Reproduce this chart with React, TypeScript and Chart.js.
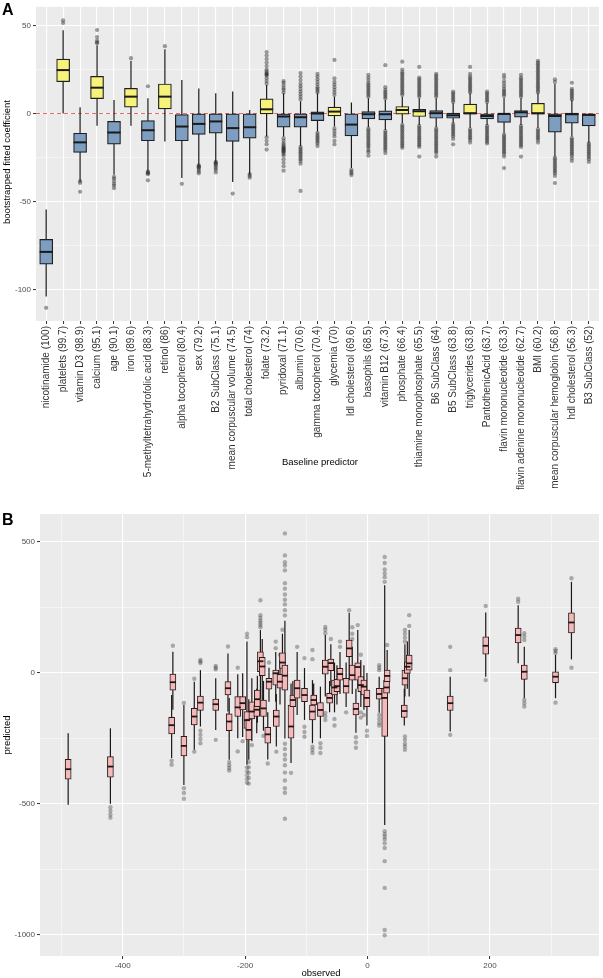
import React, { useEffect, useRef } from 'react';
import { Chart, registerables } from 'chart.js';

Chart.register(...registerables);

const FONT = '"Liberation Sans", Arial, Helvetica, sans-serif';
Chart.defaults.font.family = FONT;

// ---------------- Panel A data ----------------
const predictors = [
  'nicotinamide (100)', 'platelets (99.7)', 'vitamin D3 (98.9)', 'calcium (95.1)', 'age (90.1)',
  'iron (89.6)', '5-methyltetrahydrofolic acid (88.3)', 'retinol (86)', 'alpha tocopherol (80.4)',
  'sex (79.2)', 'B2 SubClass (75.1)', 'mean corpuscular volume (74.5)', 'total cholesterol (74)',
  'folate (73.2)', 'pyridoxal (71.1)', 'albumin (70.6)', 'gamma tocopherol (70.4)', 'glycemia (70)',
  'ldl cholesterol (69.6)', 'basophils (68.5)', 'vitamin B12 (67.3)', 'phosphate (66.4)',
  'thiamine monophosphate (65.5)', 'B6 SubClass (64)', 'B5 SubClass (63.8)', 'triglycerides (63.8)',
  'PantothenicAcid (63.7)', 'flavin mononucleotide (63.3)', 'flavin adenine mononucleotide (62.7)',
  'BMI (60.2)', 'mean corpuscular hemoglobin (56.8)', 'hdl cholesterol (56.3)', 'B3 SubClass (52)',
];
const effectDirection = [
  'neg', 'pos', 'neg', 'pos', 'neg', 'pos', 'neg', 'pos', 'neg', 'neg', 'neg', 'neg', 'neg',
  'pos', 'neg', 'neg', 'neg', 'pos', 'neg', 'neg', 'neg', 'pos', 'pos', 'neg', 'neg', 'pos',
  'neg', 'neg', 'neg', 'pos', 'neg', 'neg', 'neg',
];
const aLow = [-104, 0, -38.5, -7, -34.8, -7, -32.8, -15.9, -36.6, -29.7, -27.7, -39, -34.8, -13, -13, -18.5, -10.2, -7.4, -31, -7.8, -9.3, -5.5, -6.5, -7.8, -5.6, -8.3, -6.5, -11.2, -6.5, -8.3, -24.4, -13, -16.8];
const aQ1 = [-85.7, 18.1, -22.1, 8.5, -17.4, 3.6, -15.5, 2.6, -15.5, -11.9, -11.2, -15.9, -14, -0.2, -7.8, -7.8, -4, -1.4, -12.7, -3, -3.6, -0.4, -1.7, -2.7, -2.7, -0.3, -3, -5.1, -2.1, -0.4, -10.6, -5.5, -7];
const aMed = [-78.7, 24.7, -16.4, 14.7, -10.8, 9.6, -9.5, 9.6, -7.4, -5.9, -4.5, -8.3, -7.8, 2.4, -1.7, -2.1, 0, 1.1, -6.3, -0.4, -0.4, 2, 1.3, 0.2, -1, 0.2, -1.4, -0.2, 0.7, 0.2, -1.4, -0.4, -0.8];
const aQ3 = [-71.6, 31, -11.2, 21.1, -4.5, 14.3, -4, 16.8, -0.6, -0.2, -0.2, -0.2, -0.2, 8.3, -0.2, -0.2, 0.9, 3.6, -0.2, 1.1, 1.5, 4, 2.4, 1.7, 0.2, 5.4, -0.2, 0, 1.7, 5.8, -0.2, 0.2, -0.2];
const aHigh = [-54.6, 47.3, 3.6, 38.8, 7.7, 30, 8.7, 36.5, 19, 14.3, 11.5, 12.5, 2, 16.2, 11.5, 7, 11.5, 9.6, 6.2, 8.7, 7.7, 9.6, 8.7, 8.7, 5.8, 11.5, 5.8, 9, 8.7, 11.5, 17, 7.7, 0];
const aOutliers: number[][] = [
  [-110.5],
  [51.5, 53],
  [-38.5, -39.5, -44.5],
  [40, 40.5, 41.5, 43.5, 47.5],
  [-36, -37, -38.5, -40, -41, -42.5],
  [31.5],
  [15.5, -33, -33.5, -34, -34.5, -38],
  [38.3],
  [-40],
  [-29.5, -30, -30.5, -31, -32, -33, -34],
  [-27.5, -28, -28.5, -29, -30, -31, -32, -33.5],
  [-45.5],
  [-34.5, -35.5, -36.5],
  [17, 18.5, 20, 21.5, 22, 22.5, 23, 24, 25, 27, 29, 31, 33, 35, -13.5, -15.5, -17.5, -20.5],
  [12, 13.5, 14.5, 16, 17.5, 18.5, -14, -15.5, -17, -18, -19, -19.5, -20, -20.5, -21, -21.5, -22, -23, -24, -26, -28, -30, -32.5],
  [8, 9.5, 11, 12.5, 14, 15.5, 17, 19, 21, 23, -19, -20, -21, -22, -23, -24, -25, -26, -27, -28.5, -44],
  [12, 13, 14, 15, 16.5, 18, 19.5, 21, 22.5, -11, -12, -13, -14, -15, -16, -17, -18.5],
  [10.5, 12, 13.5, 15, 16.5, 18, 20, 30.5, -8.5, -10, -11.5, -13, -15.5, -17.5],
  [-32, -33, -34, -35],
  [9.5, 10.5, 11.5, 12.5, 13.5, 14.5, 15.5, 16.5, 17.5, 19, 20.5, 22, -8.5, -9.5, -10.5, -11.5, -12.5, -13.5, -14.5, -15.5, -16.5, -17.5, -18.5, -19.5, -21, -22, -24],
  [8.5, 9.5, 10.5, 11.5, 12.5, 13.5, 15, 27.5, -10, -11, -12, -13, -14, -15, -16, -17, -18, -19, -20, -21, -22.5],
  [10.5, 11.5, 12.5, 13.5, 14.5, 15.5, 16.5, 17.5, 18.5, 19.5, 20.5, 21.5, 22.5, 23.5, 25, 29.5, -6.5, -7.5, -8.5, -9.5, -10.5, -11.5, -12.5, -13.5, -14.5, -15.5, -16.5, -17.5, -18.5, -19.5],
  [9.5, 10.5, 11.5, 12.5, 13.5, 14.5, 15.5, 16.5, 17.5, 18.5, 19.5, 20.5, 26.5, -7, -8, -9, -10, -11, -12, -13, -14, -15, -16, -17, -18, -19, -24.5],
  [9.5, 10.5, 11.5, 12.5, 13.5, 14.5, 15.5, 16.5, 17.5, 18.5, 19.5, 20.5, 21.5, 22.5, -8.5, -9.5, -10.5, -11.5, -12.5, -13.5, -14.5, -15.5, -16.5, -17.5, -18.5, -19.5, -20.5, -21.5, -22.5, -24.5],
  [6.5, 7.5, 8.5, 9.5, 10.5, 11.5, 12.5, -6, -7, -8, -9, -10, -11, -12, -13, -14.5, -17.5],
  [12, 13, 14, 15, 16, 17, 18, 19, 20, 21, 22.5, 26.5, -9, -10, -11, -12, -13, -14, -15, -16.5],
  [6.5, 7.5, 8.5, 9.5, 10.5, 11.5, 12.5, -7, -8, -9, -10, -11, -12, -13, -14, -15, -16, -17],
  [10, 11, 12, 13, 14, 15.5, 17, 18.5, 20.5, 22, -12, -13, -14, -15, -16, -17, -18, -19, -20, -21, -22, -23, -24.5, -31],
  [9.5, 10.5, 11.5, 12.5, 13.5, 14.5, 15.5, 16.5, 17.5, 18.5, 19.5, 20.5, 22, -7, -8, -9, -10, -11, -12, -13, -14, -15, -16, -17, -18, -19, -24.5],
  [12, 13, 14, 15, 16, 17, 18, 19, 20, 21, 22, 23, 24, 25, 26, 27, 28, 29, 30, -9, -10, -11, -12, -13, -14, -15, -16.5],
  [18, 19.5, -25, -26, -27, -28, -29, -30, -31, -32, -33, -34, -35.5, -39.5],
  [8, 9, 10, 11, 12, 13, 14, 17.5, -14, -15, -16, -17, -18, -19, -20, -21, -22, -23, -24, -25.5, -27],
  [-17, -18, -19, -20, -21, -22, -23, -24, -25, -26, -27.5],
];
const aYTicks = [-100, -75, -50, -25, 0, 25, 50];
const aYMajor = [-100, -50, 0, 50];

// ---------------- Panel B data ----------------
const bObserved = [-489, -420, -318, -320, -300, -283, -273, -248, -228, -226, -212, -204, -197, -194, -189, -181, -180, -175, -172, -170, -163, -161, -150, -149, -143, -139, -135, -125, -122, -115, -103, -90, -88, -77, -69, -62, -60, -54, -50, -45, -35, -30, -25, -19, -16, -11, -6, -1, 19, 28, 31, 32, 60, 61, 65, 68, 135, 193, 246, 256, 307, 333];
const bLow = [-503, -499, -140, -324, -427, -293, -204, -217, -147, -331, -249, -244, -350, -331, -260, -230, -190, -100, -130, -220, -330, -110, -110, -280, -120, -60, -250, -343, -170, -160, -179, -268, -160, -249, -90, -150, -50, -150, -120, -80, -130, -27, -80, -228, -60, -130, -140, -200, -152, -580, -120, -90, -200, -90, -60, -90, -223, -14, 37, -96, -96, 52];
const bQ1 = [-405, -397, -65, -232, -316, -198, -143, -143, -84, -220, -166, -141, -211, -255, -175, -166, -128, 5, -10, -166, -268, -62, -46, -204, -58, 18, -65, -249, -128, -96, -109, -179, -122, -166, -4, -115, 9, -84, -71, -27, -77, 62, -27, -160, -27, -71, -84, -128, -100, -242, -77, -33, -169, -46, -1, 11, -143, 72, 115, -24, -37, 153];
const bMed = [-367, -357, -35, -199, -278, -166, -113, -119, -58, -185, -131, -115, -180, -217, -147, -140, -100, 45, 25, -135, -234, -33, -1, -166, -33, 40, -10, -204, -103, -58, -84, -147, -103, -141, 24, -95, 38, -55, -50, -4, -50, 94, -8, -137, 23, -46, -52, -95, -80, -95, -55, -11, -145, -20, 24, 37, -115, 104, 145, 5, -14, 193];
const bQ3 = [-329, -319, -4, -169, -242, -135, -88, -99, -33, -156, -90, -90, -147, -176, -110, -122, -65, 81, 60, -103, -207, -20, 11, -141, -5, 77, 30, -122, -84, -27, -58, -122, -84, -113, 49, -77, 53, -27, -24, 18, -20, 126, 30, -115, 39, -14, -27, -65, -58, -58, -27, 11, -122, 11, 43, 69, -88, 138, 172, 30, 5, 230];
const bHigh = [-230, -211, 81, -84, -122, -33, 11, -20, 75, -95, -5, -1, 120, -100, -20, -60, -10, 164, 130, -30, -150, 20, 80, -80, 50, 150, 200, -40, -30, 80, 19, -27, -40, -52, 145, -30, 110, 40, 30, 80, 40, 230, 100, -60, 164, 50, 30, 0, -14, 335, 10, 88, -60, 110, 120, 164, -14, 231, 259, 100, 69, 348];
const bOutliers: number[][] = [
  [], [-512, -526, -540, -552], [104], [-335, -350], [-114, -440, -458, -480], [-22, -300],
  [38, 44, 50, -220, -236, -252, -268], [14, 20, 27, -255], [101, -160], [-340, -352, -362, -372],
  [20, -299], [-260], [137, 150, -360, -375, -390, -405, -419], [-340, -360, -380, -400, -422],
  [-275], [], [], [175, 183, 192, 200, 210, 221, 278], [], [-240], [-345], [40], [95, 120], [-300],
  [70], [165],
  [220, 240, 262, 280, 300, 322, 343, 392, 410, 423, 449, 533, -270, -290, -312, -330, -352, -380, -410, -440, -457, -556],
  [-381], [], [100], [57, -205, -225, -243], [53, 88, -281, -293, -305], [], [-268, -285, -305],
  [152, 165, 176, -152, -165, -179], [], [130], [-175, -200], [], [100, 120], [-150], [240],
  [130, 150, 175], [-245, -265, -285], [183], [70, -150, -170], [-160], [-220, -240],
  [11, 20, 30, -160, -175, -190, -200],
  [348, 366, 380, 395, 420, 443, -604, -615, -625, -635, -650, -668, -718, -820, -981, -1001],
  [], [107], [], [120, 135, 150, 164, -242, -255, -270, -280, -293], [], [180, 221],
  [11, 100, -236], [256, -27], [272, 284], [126, 140, 152, -103, -115, -128], [76, 84, 91, -113], [362, 20],
];
const bXTicks = [-500, -400, -300, -200, -100, 0, 100, 200, 300];
const bXMajor = [-400, -200, 0, 200];
const bYTicks = [-1000, -750, -500, -250, 0, 250, 500];
const bYMajor = [-1000, -500, 0, 500];

// ---------------- styling ----------------
const PANEL_BG = '#EBEBEB';
const YELLOW = '#f7f27a';
const BLUE = '#7d9dc1';
const PINK = '#f5b9b9';

type TextSpec = { text: string; x: number; y: number; font: string; rot?: boolean; align?: CanvasTextAlign };

function makeBoxPlugin(p: {
  xs: number[]; low: number[]; med: number[]; high: number[];
  refLine?: number; whiskerWidth: number; medWidth: number; lineColor: string; texts: TextSpec[];
}) {
  return {
    id: 'boxParts',
    beforeDraw(chart: any) {
      const { ctx, chartArea: a } = chart;
      ctx.save();
      ctx.fillStyle = PANEL_BG;
      ctx.fillRect(a.left, a.top, a.right - a.left, a.bottom - a.top);
      ctx.restore();
    },
    beforeDatasetsDraw(chart: any) {
      const { ctx, chartArea: a, scales } = chart;
      const x = scales.x, y = scales.y;
      ctx.save();
      ctx.beginPath();
      ctx.rect(a.left, a.top, a.right - a.left, a.bottom - a.top);
      ctx.clip();
      if (p.refLine !== undefined) {
        const py = y.getPixelForValue(p.refLine);
        ctx.strokeStyle = '#e36a6a';
        ctx.lineWidth = 1;
        ctx.setLineDash([4, 3]);
        ctx.beginPath();
        ctx.moveTo(a.left, py);
        ctx.lineTo(a.right, py);
        ctx.stroke();
        ctx.setLineDash([]);
      }
      ctx.strokeStyle = p.lineColor;
      ctx.lineWidth = p.whiskerWidth;
      p.xs.forEach((xv, i) => {
        const px = x.getPixelForValue(xv);
        ctx.beginPath();
        ctx.moveTo(px, y.getPixelForValue(p.low[i]));
        ctx.lineTo(px, y.getPixelForValue(p.high[i]));
        ctx.stroke();
      });
      ctx.restore();
    },
    afterDatasetsDraw(chart: any) {
      const { ctx, scales } = chart;
      const meta = chart.getDatasetMeta(0);
      ctx.save();
      ctx.strokeStyle = p.lineColor;
      ctx.lineWidth = p.medWidth;
      meta.data.forEach((el: any, i: number) => {
        const py = scales.y.getPixelForValue(p.med[i]);
        const w = el.width;
        ctx.beginPath();
        ctx.moveTo(el.x - w / 2, py);
        ctx.lineTo(el.x + w / 2, py);
        ctx.stroke();
      });
      ctx.restore();
    },
    afterDraw(chart: any) {
      const ctx = chart.ctx;
      for (const t of p.texts) {
        ctx.save();
        ctx.font = t.font;
        ctx.fillStyle = '#000';
        ctx.textAlign = t.align || 'center';
        ctx.textBaseline = t.align ? 'alphabetic' : 'middle';
        if (t.rot) {
          ctx.translate(t.x, t.y);
          ctx.rotate(-Math.PI / 2);
          ctx.fillText(t.text, 0, 0);
        } else {
          ctx.fillText(t.text, t.x, t.y);
        }
        ctx.restore();
      }
    },
  };
}

function gridFor(major: number[], drawMinor: boolean) {
  const isMajor = (c: any) => !c.tick || major.includes(c.tick.value);
  return {
    color: '#ffffff',
    lineWidth: (c: any) => (isMajor(c) ? 1.1 : drawMinor ? 0.5 : 0),
    tickColor: (c: any) => (isMajor(c) ? '#333333' : 'rgba(0,0,0,0)'),
    tickLength: 3,
    tickWidth: 1,
    drawTicks: true,
    offset: false,
  };
}

function configA(): any {
  const xs = predictors.map((_, i) => i);
  return {
    type: 'bar',
    data: {
      datasets: [
        {
          type: 'bar',
          data: predictors.map((_, i) => ({ x: i, y: [aQ1[i], aQ3[i]] })),
          backgroundColor: effectDirection.map((d) => (d === 'pos' ? YELLOW : BLUE)),
          borderColor: '#1f1f1f',
          borderWidth: 1.2,
          borderSkipped: false,
          barThickness: 13,
        },
        {
          type: 'scatter',
          data: aOutliers.flatMap((vals, i) => vals.map((v) => ({ x: i, y: v }))),
          pointRadius: 2.1,
          pointBackgroundColor: 'rgba(40,40,40,0.45)',
          pointBorderWidth: 0,
        },
      ],
    },
    options: {
      responsive: false,
      animation: false,
      devicePixelRatio: 1,
      events: [],
      layout: { padding: { top: 3, left: 0, right: 0, bottom: 0 } },
      plugins: { legend: { display: false }, tooltip: { enabled: false } },
      scales: {
        x: {
          type: 'linear',
          min: -0.6,
          max: 32.6,
          offset: false,
          afterBuildTicks: (s: any) => { s.ticks = xs.map((v) => ({ value: v })); },
          afterFit: (s: any) => { s.height = 179; },
          grid: gridFor(xs, false),
          border: { display: false },
          ticks: {
            autoSkip: false,
            minRotation: 90,
            maxRotation: 90,
            padding: 2,
            color: '#333333',
            font: { family: FONT, size: 10 },
            callback: (v: any) => predictors[Math.round(Number(v))],
          },
        },
        y: {
          type: 'linear',
          min: -118,
          max: 60.7,
          beginAtZero: false,
          afterBuildTicks: (s: any) => { s.ticks = aYTicks.map((v) => ({ value: v })); },
          afterFit: (s: any) => { s.width = 36; },
          grid: gridFor(aYMajor, true),
          border: { display: false },
          ticks: {
            padding: 2,
            color: '#4d4d4d',
            font: { family: FONT, size: 8 },
            callback: (v: any) => (aYMajor.includes(Number(v)) ? String(v) : ''),
          },
        },
      },
    },
    plugins: [
      makeBoxPlugin({
        xs, low: aLow, med: aMed, high: aHigh, refLine: 0,
        whiskerWidth: 1.2, medWidth: 2, lineColor: '#1a1a1a',
        texts: [
          { text: 'A', x: 2, y: 15, font: `bold 16px ${FONT}`, align: 'left' },
          { text: 'bootstrapped fitted coefficient', x: 7, y: 162, font: `9.5px ${FONT}`, rot: true },
          { text: 'Baseline predictor', x: 320, y: 462, font: `9.5px ${FONT}` },
        ],
      }),
    ],
  };
}

function configB(): any {
  return {
    type: 'bar',
    data: {
      datasets: [
        {
          type: 'bar',
          data: bObserved.map((x, i) => ({ x, y: [bQ1[i], bQ3[i]] })),
          backgroundColor: PINK,
          borderColor: '#2a1c1c',
          borderWidth: 1,
          borderSkipped: false,
          barThickness: 6,
        },
        {
          type: 'scatter',
          data: bOutliers.flatMap((vals, i) => vals.map((v) => ({ x: bObserved[i], y: v }))),
          pointRadius: 2.2,
          pointBackgroundColor: 'rgba(60,60,60,0.38)',
          pointBorderWidth: 0,
        },
      ],
    },
    options: {
      responsive: false,
      animation: false,
      devicePixelRatio: 1,
      events: [],
      layout: { padding: { top: 14, left: 0, right: 0, bottom: 0 } },
      plugins: { legend: { display: false }, tooltip: { enabled: false } },
      scales: {
        x: {
          type: 'linear',
          min: -535,
          max: 378,
          offset: false,
          afterBuildTicks: (s: any) => { s.ticks = bXTicks.map((v) => ({ value: v })); },
          afterFit: (s: any) => { s.height = 22; },
          grid: gridFor(bXMajor, true),
          border: { display: false },
          ticks: {
            autoSkip: false,
            maxRotation: 0,
            minRotation: 0,
            padding: 2,
            color: '#4d4d4d',
            font: { family: FONT, size: 8 },
            callback: (v: any) => (bXMajor.includes(Number(v)) ? String(v) : ''),
          },
        },
        y: {
          type: 'linear',
          min: -1080,
          max: 607,
          beginAtZero: false,
          afterBuildTicks: (s: any) => { s.ticks = bYTicks.map((v) => ({ value: v })); },
          afterFit: (s: any) => { s.width = 40; },
          grid: gridFor(bYMajor, true),
          border: { display: false },
          ticks: {
            padding: 2,
            color: '#4d4d4d',
            font: { family: FONT, size: 8 },
            callback: (v: any) => (bYMajor.includes(Number(v)) ? String(v) : ''),
          },
        },
      },
    },
    plugins: [
      makeBoxPlugin({
        xs: bObserved, low: bLow, med: bMed, high: bHigh,
        whiskerWidth: 1.2, medWidth: 1.8, lineColor: '#1f1717',
        texts: [
          { text: 'B', x: 2, y: 25, font: `bold 16px ${FONT}`, align: 'left' },
          { text: 'predicted', x: 7, y: 235, font: `9.5px ${FONT}`, rot: true },
          { text: 'observed', x: 321, y: 473, font: `9.5px ${FONT}` },
        ],
      }),
    ],
  };
}

export default function App() {
  const refA = useRef<HTMLCanvasElement>(null);
  const refB = useRef<HTMLCanvasElement>(null);
  useEffect(() => {
    const ca = new Chart(refA.current as HTMLCanvasElement, configA());
    const cb = new Chart(refB.current as HTMLCanvasElement, configB());
    return () => {
      ca.destroy();
      cb.destroy();
    };
  }, []);
  return (
    <div style={{ position: 'absolute', left: 0, top: 0, width: 603, height: 978, background: '#ffffff' }}>
      <canvas ref={refA} width={603} height={500} style={{ display: 'block', width: 603, height: 500 }} />
      <canvas ref={refB} width={603} height={478} style={{ display: 'block', width: 603, height: 478 }} />
    </div>
  );
}
